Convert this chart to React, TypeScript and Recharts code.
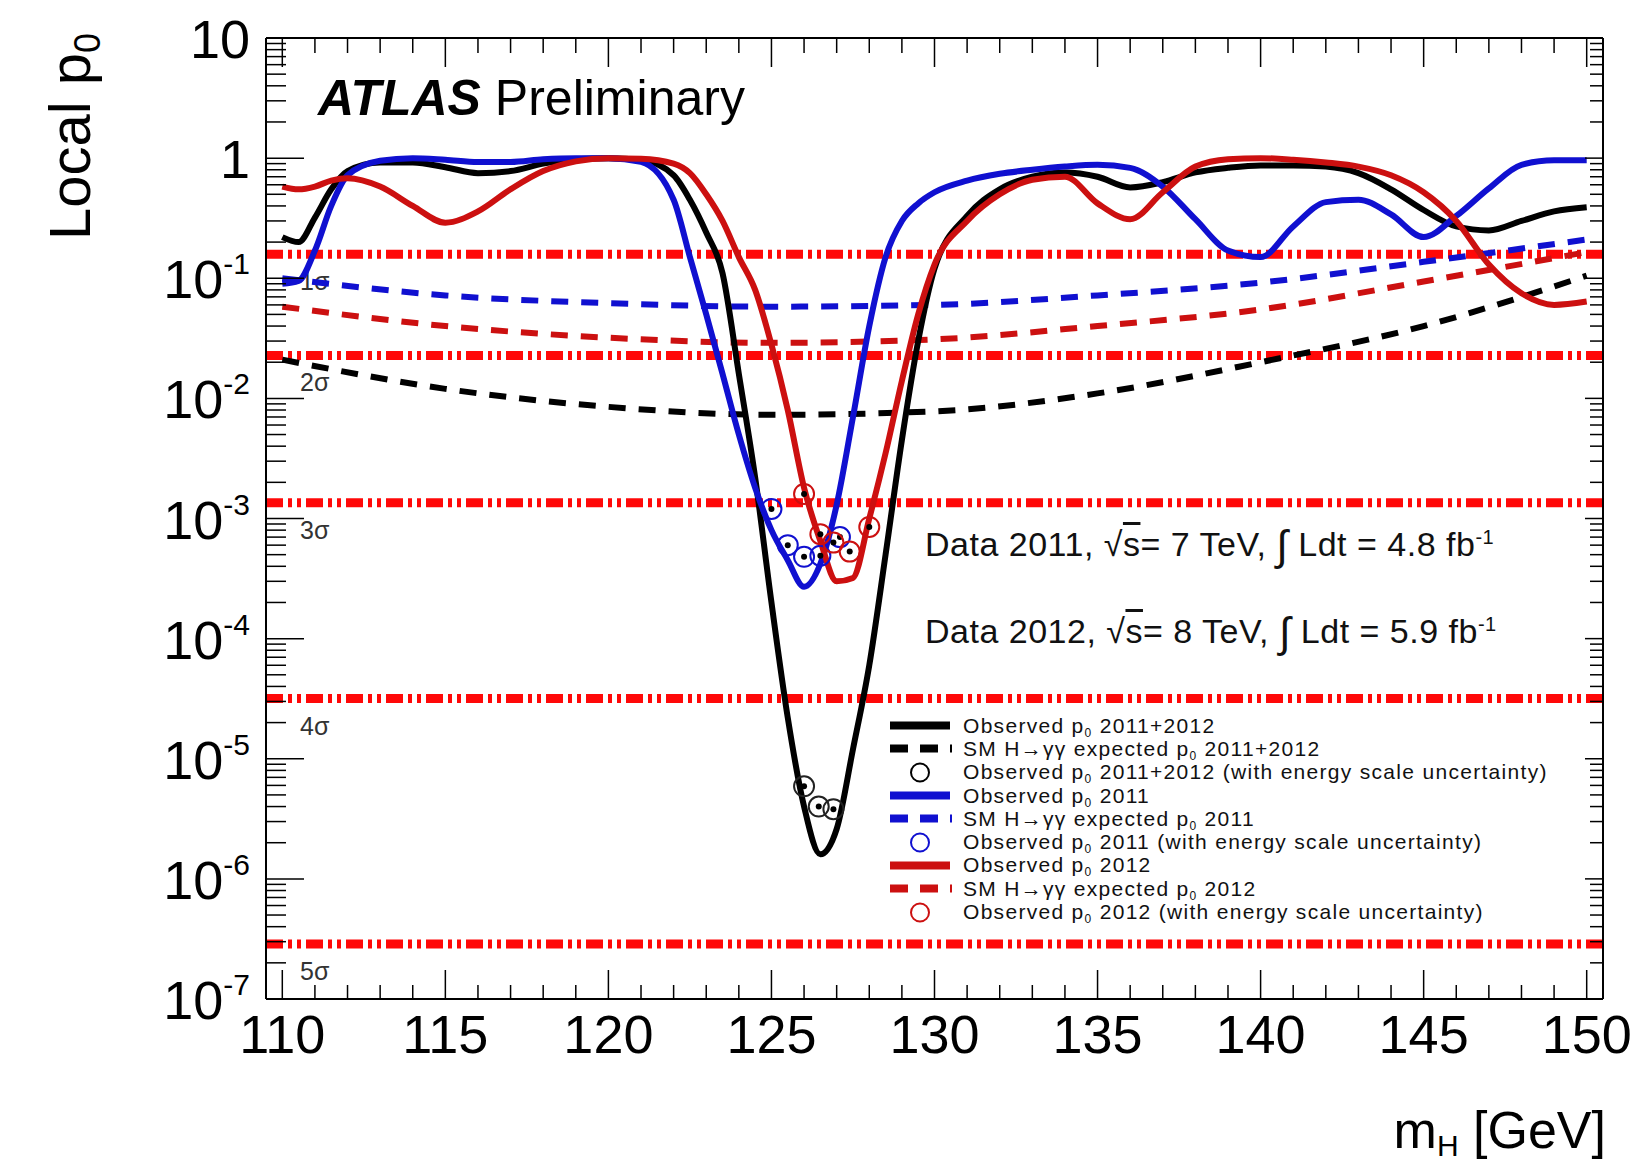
import React from 'react';
import {
  ComposedChart, Line, Scatter, XAxis, YAxis, ReferenceLine, Legend,
} from 'recharts';

// page / plot frame geometry
const W = 1633;
const H = 1164;
const PL = 266;
const PT = 38;
const PR = 1603;
const PB = 999;

const FONT = '"Liberation Sans", Arial, Helvetica, sans-serif';
const BLACK = '#000000';
const BLUE = '#1010d0';
const RED = '#cc1010';
const SIGMA_RED = '#ff0808';

// observed curves share one mass grid (GeV)
const massGrid = [
  110, 110.5, 111, 111.5, 112, 113, 114, 115, 116, 117, 118, 119, 120, 121, 122,
  122.5, 123, 123.5, 124, 124.5, 125, 125.5, 126, 126.5, 127, 127.5, 128, 128.5, 129, 129.5,
  130, 131, 132, 133, 134, 135, 136, 137, 138, 139, 140, 141, 142, 143, 144, 145, 146, 147, 148, 149, 150,
];

const obsCombP = [
  0.22, 0.2, 0.32, 0.55, 0.78, 0.92, 0.92, 0.84, 0.75, 0.78, 0.9, 0.98, 1.0, 0.97, 0.72,
  0.45, 0.24, 0.11, 0.016, 2.2e-3, 2e-4, 2.2e-5, 4e-6, 1.6e-6, 2.6e-6, 1.2e-5, 6e-5, 5e-4, 4.5e-3, 0.03,
  0.12, 0.33, 0.55, 0.7, 0.76, 0.7, 0.57, 0.63, 0.76, 0.83, 0.87, 0.87, 0.85, 0.75, 0.55, 0.37, 0.27, 0.25, 0.3, 0.36, 0.39,
];

const obs2011P = [
  0.09, 0.095, 0.17, 0.4, 0.72, 0.95, 1.0, 0.97, 0.93, 0.93, 0.98, 1.0, 1.0, 0.93, 0.45,
  0.15, 0.05, 0.016, 5e-3, 1.8e-3, 8e-4, 4.5e-4, 2.7e-4, 4.2e-4, 1.3e-3, 7e-3, 0.04, 0.15, 0.3, 0.42,
  0.52, 0.65, 0.74, 0.8, 0.85, 0.88, 0.83, 0.58, 0.31, 0.17, 0.15, 0.27, 0.43, 0.45, 0.34, 0.22, 0.33, 0.56, 0.88, 0.96, 0.96,
];

const obs2012P = [
  0.58, 0.55, 0.58, 0.65, 0.68, 0.58, 0.4, 0.29, 0.36, 0.55, 0.78, 0.94, 1.0, 0.99, 0.9,
  0.75, 0.5, 0.3, 0.15, 0.08, 0.028, 8e-3, 1.8e-3, 6.5e-4, 3e-4, 3.2e-4, 1e-3, 3.5e-3, 0.014, 0.05,
  0.13, 0.3, 0.5, 0.66, 0.7, 0.42, 0.31, 0.52, 0.85, 0.98, 1.0, 0.97, 0.92, 0.85, 0.72, 0.52, 0.3, 0.13, 0.075, 0.06, 0.064,
];

// expected (dashed) curves
const expMass = [110, 115, 120, 125, 130, 135, 140, 145, 150];
const expCombP = [0.021, 0.012, 8.5e-3, 7.3e-3, 7.8e-3, 0.011, 0.02, 0.04, 0.105];
const exp2011P = [0.1, 0.072, 0.062, 0.058, 0.06, 0.072, 0.092, 0.137, 0.21];
const exp2012P = [0.058, 0.04, 0.032, 0.029, 0.031, 0.04, 0.055, 0.094, 0.165];

// observed with energy scale uncertainty (open circles)
const escCombMass = [126, 126.45, 126.9];
const escCombP = [5.9e-6, 4e-6, 3.8e-6];
const esc2011Mass = [125, 125.5, 126, 126.5, 127.1];
const esc2011P = [1.2e-3, 6e-4, 4.8e-4, 4.9e-4, 7e-4];
const esc2012Mass = [126, 126.5, 126.9, 127.4, 128];
const esc2012P = [1.6e-3, 7.4e-4, 6.3e-4, 5.3e-4, 8.5e-4];

// local significance lines
const sigmaP = [0.1587, 0.02275, 1.35e-3, 3.17e-5, 2.87e-7];
const sigmaLabels = ['1σ', '2σ', '3σ', '4σ', '5σ'];

// axes
const xTicks = [
  110, 111, 112, 113, 114, 115, 116, 117, 118, 119, 120, 121, 122, 123, 124, 125, 126, 127, 128, 129, 130,
  131, 132, 133, 134, 135, 136, 137, 138, 139, 140, 141, 142, 143, 144, 145, 146, 147, 148, 149, 150,
];
const xLabelTicks = [110, 115, 120, 125, 130, 135, 140, 145, 150];
const yExponents = [-7, -6, -5, -4, -3, -2, -1, 0, 1];
const yMinorMult = [2, 3, 4, 5, 6, 7, 8, 9];
const yMajor = yExponents.map((e) => Math.pow(10, e));
const yTicks = [...yMajor, ...yMajor.slice(0, -1).flatMap((t) => yMinorMult.map((k) => k * t))].sort((a, b) => a - b);

const zip = (ms: number[], ps: number[]) => ms.map((m, i) => ({ m, p: ps[i] }));

const obsCombData = zip(massGrid, obsCombP);
const obs2011Data = zip(massGrid, obs2011P);
const obs2012Data = zip(massGrid, obs2012P);
const expCombData = zip(expMass, expCombP);
const exp2011Data = zip(expMass, exp2011P);
const exp2012Data = zip(expMass, exp2012P);

// legend rows: symbol, colour, text before the p0 subscript, text after it
const legendRows = [
  { sym: 'line', color: BLACK, pre: 'Observed p', post: ' 2011+2012' },
  { sym: 'dash', color: BLACK, pre: 'SM H→γγ expected p', post: ' 2011+2012' },
  { sym: 'circle', color: BLACK, pre: 'Observed p', post: ' 2011+2012 (with energy scale uncertainty)' },
  { sym: 'line', color: BLUE, pre: 'Observed p', post: ' 2011' },
  { sym: 'dash', color: BLUE, pre: 'SM H→γγ expected p', post: ' 2011' },
  { sym: 'circle', color: BLUE, pre: 'Observed p', post: ' 2011 (with energy scale uncertainty)' },
  { sym: 'line', color: RED, pre: 'Observed p', post: ' 2012' },
  { sym: 'dash', color: RED, pre: 'SM H→γγ expected p', post: ' 2012' },
  { sym: 'circle', color: RED, pre: 'Observed p', post: ' 2012 (with energy scale uncertainty)' },
];

const isDecade = (v: number) => {
  const e = Math.log10(v);
  return Math.abs(e - Math.round(e)) < 1e-6;
};

const XTickBottom = (props: any) => {
  const { x, payload } = props;
  const v = payload.value;
  const major = xLabelTicks.includes(v);
  return (
    <g>
      <line x1={x} x2={x} y1={PB} y2={PB - (major ? 29 : 14)} stroke="#000" strokeWidth={1.5} />
      {major && (
        <text x={x} y={PB + 54} textAnchor="middle" fontSize={54} fontFamily={FONT} fill="#000">{v}</text>
      )}
    </g>
  );
};

const XTickTop = (props: any) => {
  const { x, payload } = props;
  const major = xLabelTicks.includes(payload.value);
  return <line x1={x} x2={x} y1={PT} y2={PT + (major ? 29 : 15)} stroke="#000" strokeWidth={1.5} />;
};

const YTickLeft = (props: any) => {
  const { y, payload } = props;
  const v = payload.value;
  const major = isDecade(v);
  const e = Math.round(Math.log10(v));
  return (
    <g>
      <line x1={PL} x2={PL + (major ? 38 : 20)} y1={y} y2={y} stroke="#000" strokeWidth={1.5} />
      {major && (
        <text x={PL - 16} y={y + 20} textAnchor="end" fontSize={54} fontFamily={FONT} fill="#000">
          {e === 0 ? '1' : e === 1 ? '10' : (
            <>
              <tspan>10</tspan>
              <tspan dy={-24} fontSize={30}>{String(e)}</tspan>
            </>
          )}
        </text>
      )}
    </g>
  );
};

const YTickRight = (props: any) => {
  const { y, payload } = props;
  const major = isDecade(payload.value);
  return <line x1={PR} x2={PR - (major ? 18 : 13)} y1={y} y2={y} stroke="#000" strokeWidth={1.5} />;
};

const YTitle = () => (
  <text x={90} y={240} transform="rotate(-90 90 240)" fontSize={58} fontFamily={FONT} fill="#000">
    Local p<tspan fontSize={36} dy={10}>0</tspan>
  </text>
);

const XTitle = () => (
  <text x={1606} y={1148} textAnchor="end" fontSize={52} fontFamily={FONT} fill="#000">
    m<tspan fontSize={30} dy={8}>H</tspan><tspan dy={-8}> [GeV]</tspan>
  </text>
);

const SigmaLabel = (text: string) => (props: any) => {
  const vb = props.viewBox || {};
  return (
    <text x={PL + 34} y={(vb.y ?? 0) + 36} fontSize={25} fontFamily={FONT} fill="#333">{text}</text>
  );
};

const makeCircle = (color: string) => (props: any) => {
  const { cx, cy } = props;
  return (
    <g>
      <circle cx={cx} cy={cy} r={10} fill="none" stroke={color} strokeWidth={2} />
      <circle cx={cx} cy={cy} r={3} fill="#000" />
    </g>
  );
};

const LegendBox = () => (
  <div style={{ fontFamily: FONT, fontSize: 21, letterSpacing: '1.3px', color: '#111', lineHeight: '23.3px' }}>
    {legendRows.map((r, i) => (
      <div key={i} style={{ display: 'flex', alignItems: 'center', height: 23.3, whiteSpace: 'nowrap' }}>
        <svg width={62} height={23} style={{ flex: 'none' }}>
          {r.sym === 'line' && <line x1={0} x2={60} y1={11.5} y2={11.5} stroke={r.color} strokeWidth={8} />}
          {r.sym === 'dash' && (
            <line x1={0} x2={62} y1={11.5} y2={11.5} stroke={r.color} strokeWidth={8} strokeDasharray="18 12" />
          )}
          {r.sym === 'circle' && <circle cx={30} cy={11.5} r={9} fill="none" stroke={r.color} strokeWidth={2} />}
        </svg>
        <span style={{ marginLeft: 11, lineHeight: '20px' }}>
          {r.pre}<sub style={{ fontSize: 12, verticalAlign: '-4px', lineHeight: 0 }}>0</sub>{r.post}
        </span>
      </div>
    ))}
  </div>
);

const dataTextStyle: React.CSSProperties = {
  position: 'absolute', left: 925, fontFamily: FONT, fontSize: 34, letterSpacing: '0.5px',
  lineHeight: 1, whiteSpace: 'nowrap', color: '#111',
};

export default function App() {
  return (
    <div style={{ position: 'absolute', left: 0, top: 0, width: W, height: H, background: '#fff' }}>
      <ComposedChart width={W} height={H} margin={{ top: PT - 10, right: W - PR - 10, bottom: H - PB - 60, left: PL - 60 }}>
        <XAxis
          xAxisId="b" type="number" dataKey="m" domain={[109.5, 150.5]} allowDataOverflow
          ticks={xTicks} interval={0} height={60} tickLine={false}
          axisLine={{ stroke: '#000', strokeWidth: 2 }} tick={XTickBottom}
          label={{ content: XTitle }}
        />
        <XAxis
          xAxisId="t" orientation="top" type="number" dataKey="m" domain={[109.5, 150.5]} allowDataOverflow
          ticks={xTicks} interval={0} height={10} tickLine={false}
          axisLine={{ stroke: '#000', strokeWidth: 2 }} tick={XTickTop}
        />
        <YAxis
          yAxisId="l" type="number" scale="log" domain={[1e-7, 10]} allowDataOverflow
          ticks={yTicks} interval={0} width={60} tickLine={false}
          axisLine={{ stroke: '#000', strokeWidth: 2 }} tick={YTickLeft}
          label={{ content: YTitle }}
        />
        <YAxis
          yAxisId="r" orientation="right" type="number" scale="log" domain={[1e-7, 10]} allowDataOverflow
          ticks={yTicks} interval={0} width={10} tickLine={false}
          axisLine={{ stroke: '#000', strokeWidth: 2 }} tick={YTickRight}
        />

        {sigmaP.map((p, i) => (
          <ReferenceLine
            key={i} xAxisId="b" yAxisId="l" y={p}
            stroke={SIGMA_RED} strokeWidth={9} strokeDasharray="17 5 4 5 4 5"
            label={{ content: SigmaLabel(sigmaLabels[i]) }}
          />
        ))}

        <Line xAxisId="b" yAxisId="l" data={expCombData} dataKey="p" type="monotone" stroke={BLACK}
          strokeWidth={6} strokeDasharray="17 13" dot={false} isAnimationActive={false} />
        <Line xAxisId="b" yAxisId="l" data={exp2011Data} dataKey="p" type="monotone" stroke={BLUE}
          strokeWidth={6} strokeDasharray="17 13" dot={false} isAnimationActive={false} />
        <Line xAxisId="b" yAxisId="l" data={exp2012Data} dataKey="p" type="monotone" stroke={RED}
          strokeWidth={6} strokeDasharray="17 13" dot={false} isAnimationActive={false} />

        <Line xAxisId="b" yAxisId="l" data={obsCombData} dataKey="p" type="monotone" stroke={BLACK}
          strokeWidth={6} dot={false} isAnimationActive={false} />
        <Line xAxisId="b" yAxisId="l" data={obs2011Data} dataKey="p" type="monotone" stroke={BLUE}
          strokeWidth={6} dot={false} isAnimationActive={false} />
        <Line xAxisId="b" yAxisId="l" data={obs2012Data} dataKey="p" type="monotone" stroke={RED}
          strokeWidth={6} dot={false} isAnimationActive={false} />

        <Scatter xAxisId="b" yAxisId="l" data={zip(escCombMass, escCombP)} dataKey="p"
          shape={makeCircle('#222')} isAnimationActive={false} />
        <Scatter xAxisId="b" yAxisId="l" data={zip(esc2011Mass, esc2011P)} dataKey="p"
          shape={makeCircle(BLUE)} isAnimationActive={false} />
        <Scatter xAxisId="b" yAxisId="l" data={zip(esc2012Mass, esc2012P)} dataKey="p"
          shape={makeCircle(RED)} isAnimationActive={false} />

        <Legend
          content={LegendBox} layout="vertical" align="center" verticalAlign="middle"
          wrapperStyle={{ left: 890, top: 714, width: 712, height: 215 }}
        />
      </ComposedChart>

      <div style={{ position: 'absolute', left: 318, top: 73, fontFamily: FONT, fontSize: 50, lineHeight: 1, whiteSpace: 'nowrap', color: '#000' }}>
        <b><i>ATLAS</i></b> Preliminary
      </div>
      <div style={{ ...dataTextStyle, top: 525 }}>
        Data 2011, √<span style={{ textDecoration: 'overline' }}>s</span>= 7 TeV, <span style={{ fontSize: 42, verticalAlign: '-4px' }}>∫</span> Ldt = 4.8 fb<sup style={{ fontSize: 20, lineHeight: 0 }}>-1</sup>
      </div>
      <div style={{ ...dataTextStyle, top: 612 }}>
        Data 2012, √<span style={{ textDecoration: 'overline' }}>s</span>= 8 TeV, <span style={{ fontSize: 42, verticalAlign: '-4px' }}>∫</span> Ldt = 5.9 fb<sup style={{ fontSize: 20, lineHeight: 0 }}>-1</sup>
      </div>
    </div>
  );
}
